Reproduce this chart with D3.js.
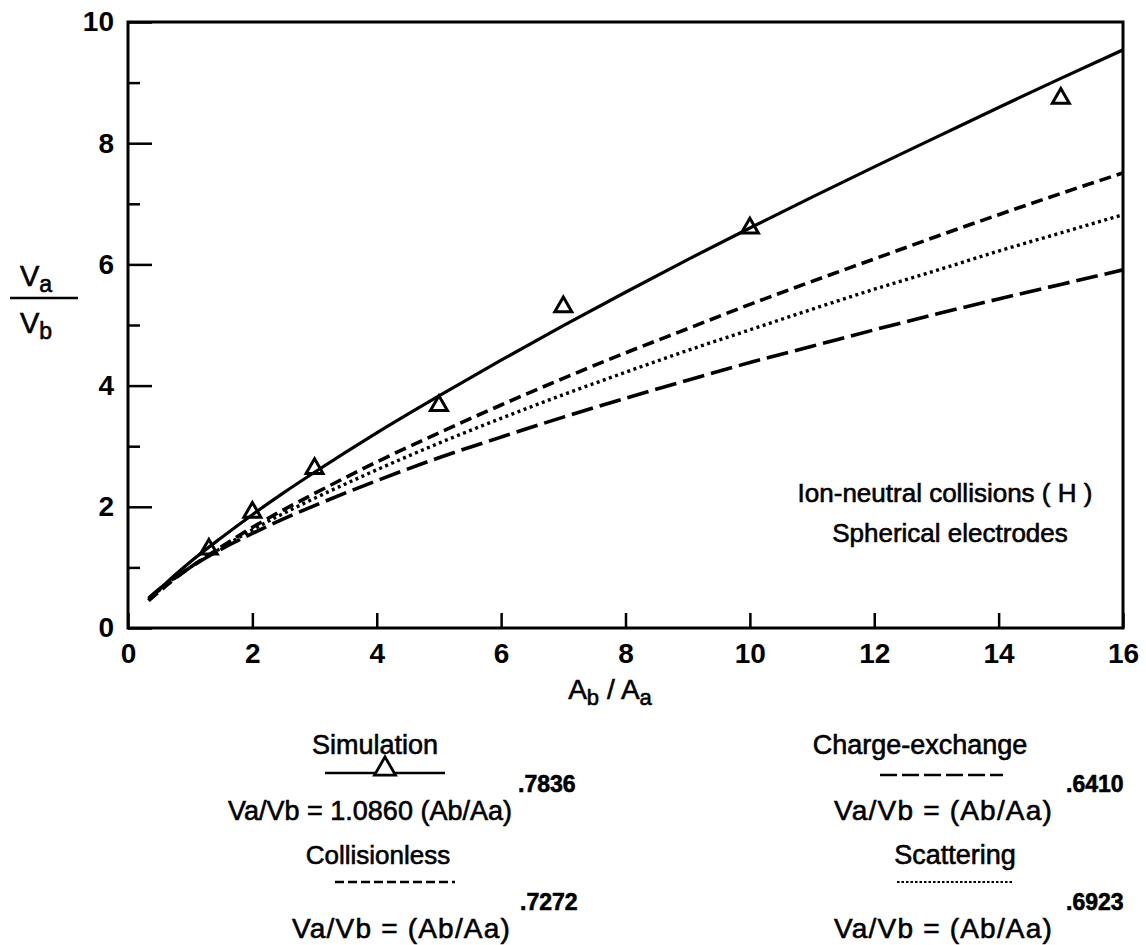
<!DOCTYPE html>
<html>
<head>
<meta charset="utf-8">
<script src="https://cdn.jsdelivr.net/npm/d3@7"></script>
<style>
  html, body { margin: 0; padding: 0; background: #fff; }
  svg { display: block; font-family: "Liberation Sans", Arial, Helvetica, sans-serif; }
  .heavy { stroke: #000; stroke-width: 0.6px; paint-order: stroke; }
</style>
</head>
<body>
<svg id="chart" width="1146" height="945"></svg>
<script>
// ---- data ----
const curveX = [0.33, 0.5, 0.75, 1, 1.5, 2, 2.5, 3, 4, 5, 6, 7, 8, 9, 10, 11, 12, 13, 14, 15, 16];
const simulationFit = [0.46, 0.63, 0.87, 1.09, 1.49, 1.87, 2.23, 2.57, 3.22, 3.83, 4.42, 4.99, 5.54, 6.08, 6.60, 7.11, 7.61, 8.10, 8.59, 9.07, 9.54];
const collisionless = [0.45, 0.60, 0.81, 1.00, 1.34, 1.66, 1.95, 2.22, 2.74, 3.22, 3.68, 4.12, 4.54, 4.94, 5.34, 5.72, 6.09, 6.46, 6.82, 7.17, 7.51];
const scattering = [0.46, 0.62, 0.82, 1.00, 1.32, 1.62, 1.89, 2.14, 2.61, 3.05, 3.46, 3.85, 4.22, 4.58, 4.92, 5.26, 5.59, 5.90, 6.22, 6.52, 6.82];
const chargeExchange = [0.49, 0.64, 0.83, 1.00, 1.30, 1.56, 1.80, 2.02, 2.43, 2.81, 3.15, 3.48, 3.79, 4.09, 4.38, 4.65, 4.92, 5.18, 5.43, 5.67, 5.91];
const simPointX = [1.3, 2, 3, 5, 7, 10, 15];
const simPointY = [1.3, 1.91, 2.63, 3.67, 5.3, 6.6, 8.74];
const xTickLabels = [0, 2, 4, 6, 8, 10, 12, 14, 16];
const yTickLabels = [0, 2, 4, 6, 8, 10];
const yMinorTicks = [1, 3, 5, 7, 9];

// ---- layout ----
const svg = d3.select("#chart");
const L = 128, R = 1123, T = 22, B = 628;
const x = d3.scaleLinear().domain([0, 16]).range([L, R]);
const y = d3.scaleLinear().domain([0, 10]).range([B, T]);

// axes
const gy = svg.append("g").attr("transform", `translate(${L},0)`)
  .call(d3.axisLeft(y).tickValues(yTickLabels).tickSizeInner(-24).tickSizeOuter(0).tickPadding(14).tickFormat(d3.format("d")));
const gyMinor = svg.append("g").attr("transform", `translate(${L},0)`)
  .call(d3.axisLeft(y).tickValues(yMinorTicks).tickSizeInner(-12).tickSizeOuter(0).tickFormat(""));
const gx = svg.append("g").attr("transform", `translate(0,${B})`)
  .call(d3.axisBottom(x).tickValues(xTickLabels).tickSizeInner(-15).tickSizeOuter(0).tickPadding(15).tickFormat(d3.format("d")));
[gy, gyMinor, gx].forEach(g => {
  g.select(".domain").remove();
  g.selectAll(".tick line").attr("stroke", "#000").attr("stroke-width", 2.5);
  g.selectAll(".tick text").attr("fill", "#000").attr("font-size", 28).attr("font-weight", "bold")
    .attr("font-family", "'Liberation Sans', Arial, sans-serif");
});

// frame
svg.append("rect").attr("x", L).attr("y", T).attr("width", R - L).attr("height", B - T)
  .attr("fill", "none").attr("stroke", "#000").attr("stroke-width", 3);

// clip
svg.append("clipPath").attr("id", "clip").append("rect")
  .attr("x", L).attr("y", T).attr("width", R - L).attr("height", B - T);

const line = d3.line().x(d => x(d[0])).y(d => y(d[1])).curve(d3.curveMonotoneX);
const series = [
  { vals: simulationFit, dash: null, w: 3.2 },
  { vals: collisionless, dash: "12,6", w: 3.6 },
  { vals: scattering, dash: "3,3.5", w: 3.4 },
  { vals: chargeExchange, dash: "22,7", w: 3.6 }
];
const plot = svg.append("g").attr("clip-path", "url(#clip)");
series.forEach(s => {
  plot.append("path")
    .datum(curveX.map((v, i) => [v, s.vals[i]]))
    .attr("d", line)
    .attr("fill", "none").attr("stroke", "#000").attr("stroke-width", s.w)
    .attr("stroke-dasharray", s.dash);
});

// simulation points
const tri = d3.symbol().type(d3.symbolTriangle).size(125);
svg.append("g").selectAll("path").data(simPointX.map((v, i) => [v, simPointY[i]]))
  .join("path")
  .attr("d", tri)
  .attr("transform", d => `translate(${x(d[0])},${y(d[1])})`)
  .attr("fill", "none").attr("stroke", "#000").attr("stroke-width", 3);

// y label (fraction)
const yl = svg.append("g").attr("font-size", 29).attr("fill", "#000").attr("class", "heavy");
yl.append("text").attr("x", 20).attr("y", 286).text("V")
  .append("tspan").attr("font-size", 23).attr("dy", 6).text("a");
yl.append("line").attr("x1", 10).attr("x2", 78).attr("y1", 298).attr("y2", 298)
  .attr("stroke", "#000").attr("stroke-width", 2.5);
yl.append("text").attr("x", 20).attr("y", 333).text("V")
  .append("tspan").attr("font-size", 23).attr("dy", 6).text("b");

// x label
const xl = svg.append("text").attr("x", 610).attr("y", 699).attr("text-anchor", "middle")
  .attr("font-size", 28).attr("fill", "#000").attr("class", "heavy");
xl.append("tspan").text("A");
xl.append("tspan").attr("font-size", 22).attr("dy", 6).text("b");
xl.append("tspan").attr("dy", -6).text(" / A");
xl.append("tspan").attr("font-size", 22).attr("dy", 6).text("a");

// annotation
svg.append("text").attr("x", 945).attr("y", 502).attr("text-anchor", "middle").attr("class", "heavy")
  .attr("font-size", 26).text("Ion-neutral collisions ( H )");
svg.append("text").attr("x", 950).attr("y", 542).attr("text-anchor", "middle").attr("class", "heavy")
  .attr("font-size", 26).text("Spherical electrodes");

// legend
const lg = svg.append("g").attr("fill", "#000");
function txt(xp, yp, s, anchor, size) {
  return lg.append("text").attr("x", xp).attr("y", yp).attr("text-anchor", anchor || "middle")
    .attr("class", "heavy").attr("font-size", size || 27).text(s);
}
function seg(x1, x2, yp, dash, w) {
  lg.append("line").attr("x1", x1).attr("x2", x2).attr("y1", yp).attr("y2", yp)
    .attr("stroke", "#000").attr("stroke-width", w || 2.5).attr("stroke-dasharray", dash);
}
// Simulation
txt(375, 754, "Simulation");
seg(325, 445, 773, null, 2.5);
lg.append("path").attr("d", d3.symbol().type(d3.symbolTriangle).size(190))
  .attr("transform", "translate(385,769)").attr("fill", "#fff").attr("stroke", "#000").attr("stroke-width", 2.8);
txt(228, 820, "Va/Vb = 1.0860 (Ab/Aa)", "start");
txt(518, 792, ".7836", "start", 23).attr("font-weight", "bold");
// Collisionless
txt(378, 864, "Collisionless", "middle", 26);
seg(335, 455, 882, "9,4", 2.5);
txt(292, 938, "Va/Vb = (Ab/Aa)", "start", 28).attr("letter-spacing", 1.2);
txt(520, 910, ".7272", "start", 23).attr("font-weight", "bold");
// Charge-exchange
txt(920, 754, "Charge-exchange");
seg(880, 1003, 775, "17,5", 2.5);
txt(834, 820, "Va/Vb = (Ab/Aa)", "start", 28).attr("letter-spacing", 1.2);
txt(1066, 792, ".6410", "start", 23).attr("font-weight", "bold");
// Scattering
txt(955, 864, "Scattering");
seg(897, 1012, 882, "2.5,2", 2);
txt(834, 938, "Va/Vb = (Ab/Aa)", "start", 28).attr("letter-spacing", 1.2);
txt(1066, 910, ".6923", "start", 23).attr("font-weight", "bold");
</script>
</body>
</html>
